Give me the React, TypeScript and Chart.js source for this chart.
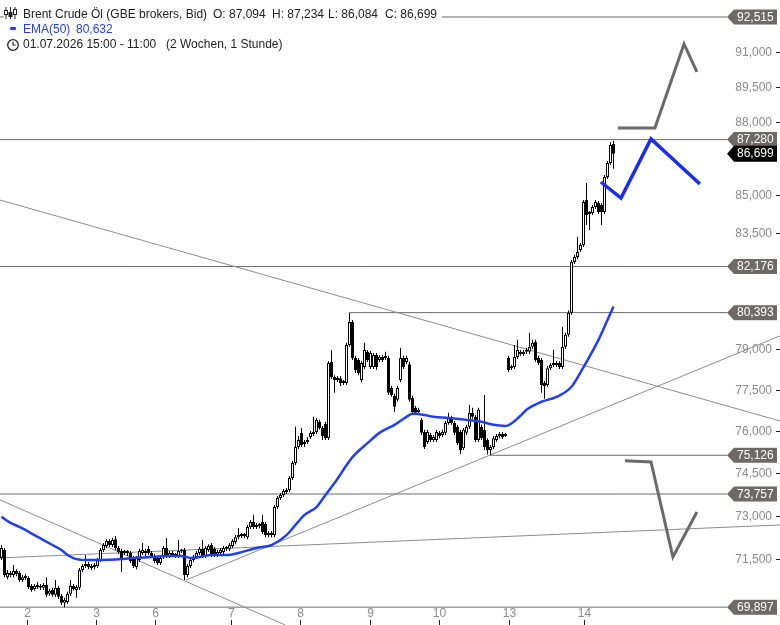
import { useEffect, useRef } from "react"
import { Chart, registerables } from "chart.js"

Chart.register(...registerables)

// hourly candles, 01.07. 15:00 - 14.07. 11:00 (index = candle slot)
const opens = [
  71.55, 71.82, 70.9, 71.04, 70.97, 71.11, 71.04, 70.8, 70.9, 70.87,
  70.6, 70.5, 70.57, 70.6, 70.54, 70.64, 70.34, 70.47, 70.31, 70.54,
  70.27, 70.04, 70.07, 70.34, 70.6, 70.47, 70.54, 71.14, 71.28, 71.34,
  71.28, 71.24, 71.28, 71.48, 71.82, 71.96, 72.13, 71.99, 72.19, 71.89,
  71.79, 71.72, 71.75, 71.72, 71.55, 71.24, 71.48, 71.72, 71.79, 71.86,
  71.72, 71.62, 71.55, 71.38, 71.58, 71.89, 71.62, 71.72, 71.65, 71.62,
  71.79, 71.82, 70.97, 71.28, 71.48, 71.58, 71.72, 71.86, 71.62, 71.82,
  71.99, 71.86, 71.65, 71.72, 71.75, 71.89, 71.86, 71.96, 72.09, 72.26,
  72.33, 72.3, 72.26, 72.61, 72.78, 72.61, 72.68, 72.78, 72.71, 72.33,
  72.4, 72.33, 73.3, 73.62, 73.72, 73.86, 73.9, 74.32, 74.85, 75.42,
  75.93, 75.53, 75.6, 75.78, 75.93, 75.96, 76.33, 76.11, 76.26, 75.74,
  78.53, 77.97, 77.86, 77.93, 77.75, 77.75, 79.17, 80.04, 78.68, 78.6,
  77.86, 78.34, 78.91, 78.34, 78.34, 78.79, 78.6, 78.72, 78.68, 78.68,
  77.57, 77.28, 77.13, 77.86, 78.68, 78.53, 78.45, 77.2, 76.84, 76.69,
  76.4, 75.96, 75.6, 75.85, 75.67, 75.67, 75.93, 75.85, 75.93, 76.29,
  76.47, 76.29, 76.15, 75.96, 75.38, 75.93, 76.15, 76.66, 76.51, 75.67,
  76.15, 76.04, 75.67, 75.31, 75.42, 75.67, 75.82, 75.89, 75.82, 78.68,
  78.3, 78.34, 78.72, 78.91, 78.83, 78.91, 78.91, 79.1, 79.28, 78.68,
  78.6, 77.75, 77.68, 78.3, 78.42, 78.42, 78.49, 78.34, 79.1, 79.55,
  80.39, 82.35, 82.55, 82.82, 83.02, 84.81, 84.25, 84.29, 84.53, 84.69,
  84.61, 84.33, 85.74, 86.32, 87.094,
]
const highs = [
  71.99, 71.89, 71.14, 71.11, 71.31, 71.17, 71.11, 70.97, 71.0, 70.93,
  70.67, 70.67, 70.74, 70.67, 70.7, 70.9, 70.5, 70.54, 70.8, 70.6,
  70.34, 70.21, 70.41, 70.8, 70.67, 70.64, 71.21, 71.34, 71.65, 71.41,
  71.34, 71.38, 71.55, 71.89, 72.06, 72.19, 72.19, 72.23, 72.3, 71.96,
  71.86, 71.82, 71.82, 71.79, 71.62, 71.62, 71.86, 72.06, 71.86, 71.96,
  71.79, 71.68, 71.62, 71.62, 71.96, 72.23, 71.79, 71.79, 71.72, 72.16,
  71.86, 71.89, 71.34, 71.55, 71.65, 71.79, 71.92, 72.16, 71.96, 72.02,
  72.06, 71.92, 71.82, 71.89, 71.96, 71.96, 72.06, 72.19, 72.33, 72.57,
  72.4, 72.4, 72.68, 72.85, 73.03, 72.75, 72.75, 73.03, 72.78, 72.47,
  72.47, 73.37, 73.69, 73.79, 73.93, 73.97, 74.39, 74.92, 76.15, 75.82,
  76.11, 75.67, 75.78, 76.0, 76.51, 76.47, 76.4, 76.18, 76.33, 78.56,
  78.98, 78.04, 78.01, 78.01, 77.86, 79.25, 80.393, 80.11, 78.76, 78.68,
  78.56, 79.25, 78.98, 78.94, 78.87, 78.87, 78.79, 78.79, 78.91, 78.76,
  77.64, 77.35, 77.64, 79.06, 78.76, 78.76, 78.53, 77.28, 76.91, 76.84,
  76.47, 76.04, 76.04, 75.93, 75.85, 76.04, 76.0, 76.04, 76.36, 76.66,
  76.55, 76.36, 76.22, 76.04, 76.11, 76.22, 76.95, 76.84, 76.58, 76.84,
  76.22, 77.31, 75.74, 75.49, 75.82, 75.89, 75.96, 75.96, 75.93, 78.76,
  78.42, 79.17, 79.36, 78.98, 78.98, 79.06, 79.63, 79.36, 79.36, 78.76,
  78.68, 77.82, 78.38, 78.49, 78.98, 78.56, 78.56, 79.85, 79.63, 80.47,
  82.43, 82.63, 83.34, 83.1, 84.81, 85.5, 84.37, 84.61, 84.81, 84.77,
  84.69, 85.82, 86.4, 87.18, 87.234,
]
const lows = [
  71.48, 70.9, 70.83, 70.9, 70.9, 70.93, 70.74, 70.74, 70.8, 70.5,
  70.41, 70.44, 70.5, 70.47, 70.47, 70.24, 70.27, 70.24, 70.24, 70.17,
  69.97, 69.897, 70.01, 70.27, 70.44, 70.21, 70.47, 71.07, 71.21, 71.17,
  71.14, 71.17, 71.21, 71.41, 71.75, 71.89, 71.92, 71.92, 71.82, 71.68,
  71.07, 71.65, 71.62, 71.38, 71.21, 71.17, 71.41, 71.65, 71.62, 71.65,
  71.55, 71.38, 71.31, 71.31, 71.51, 71.55, 71.55, 71.58, 71.55, 71.55,
  71.72, 70.8, 70.9, 71.21, 71.41, 71.51, 71.65, 71.55, 71.55, 71.75,
  71.58, 71.58, 71.58, 71.65, 71.68, 71.79, 71.79, 71.89, 72.02, 72.19,
  72.23, 72.23, 72.19, 72.54, 72.54, 72.54, 72.57, 72.37, 72.26, 72.26,
  72.26, 72.26, 73.23, 73.55, 73.65, 73.76, 73.83, 74.25, 74.78, 75.35,
  75.42, 75.42, 75.53, 75.71, 75.82, 75.89, 76.04, 75.67, 75.67, 75.67,
  77.9, 77.39, 77.79, 77.64, 77.68, 77.68, 79.1, 78.6, 78.12, 78.04,
  77.79, 78.27, 78.53, 78.27, 78.27, 78.23, 78.53, 78.53, 78.6, 77.31,
  77.24, 76.69, 77.06, 77.79, 78.27, 78.45, 77.06, 76.62, 76.58, 76.62,
  75.85, 75.35, 75.53, 75.6, 75.6, 75.6, 75.74, 75.78, 75.85, 76.22,
  76.22, 75.85, 75.49, 75.17, 75.31, 75.85, 76.07, 76.44, 75.6, 75.6,
  75.67, 75.31, 75.15, 75.126, 75.35, 75.6, 75.74, 75.71, 75.78, 78.16,
  78.23, 78.27, 78.64, 78.76, 78.76, 78.83, 78.83, 79.02, 78.53, 78.42,
  77.39, 77.17, 77.61, 78.23, 78.34, 78.34, 78.27, 78.27, 79.02, 79.48,
  80.31, 82.27, 82.47, 82.74, 82.94, 83.81, 83.61, 84.21, 84.45, 84.25,
  83.81, 84.25, 85.66, 86.24, 86.084,
]
const closes = [
  71.89, 70.97, 71.04, 70.97, 71.11, 71.0, 70.8, 70.9, 70.87, 70.57,
  70.47, 70.6, 70.64, 70.54, 70.64, 70.31, 70.44, 70.31, 70.54, 70.24,
  70.04, 70.14, 70.34, 70.6, 70.5, 70.57, 71.14, 71.28, 71.31, 71.24,
  71.21, 71.31, 71.48, 71.82, 71.99, 72.13, 71.99, 72.16, 71.89, 71.75,
  71.48, 71.75, 71.72, 71.45, 71.28, 71.55, 71.79, 71.82, 71.72, 71.72,
  71.62, 71.45, 71.38, 71.55, 71.89, 71.62, 71.72, 71.65, 71.62, 71.79,
  71.77, 70.97, 71.28, 71.48, 71.58, 71.72, 71.86, 71.62, 71.89, 71.96,
  71.65, 71.65, 71.75, 71.82, 71.89, 71.86, 71.99, 72.13, 72.26, 72.33,
  72.3, 72.33, 72.61, 72.78, 72.61, 72.68, 72.64, 72.44, 72.33, 72.4,
  72.33, 73.3, 73.62, 73.72, 73.86, 73.83, 74.32, 74.85, 75.42, 75.67,
  75.49, 75.6, 75.67, 75.93, 75.89, 76.4, 76.11, 75.82, 75.74, 78.49,
  77.97, 77.86, 77.93, 77.75, 77.79, 79.17, 80.04, 78.68, 78.23, 78.12,
  78.49, 78.98, 78.6, 78.87, 78.79, 78.34, 78.72, 78.6, 78.76, 77.39,
  77.31, 76.88, 77.57, 78.68, 78.34, 78.68, 77.13, 76.69, 76.66, 76.77,
  75.93, 75.42, 75.96, 75.67, 75.78, 75.96, 75.82, 75.96, 76.29, 76.47,
  76.29, 75.93, 75.56, 75.31, 76.04, 76.15, 76.66, 76.51, 75.67, 76.77,
  75.74, 75.42, 75.31, 75.42, 75.74, 75.82, 75.89, 75.78, 75.85, 78.23,
  78.34, 78.72, 78.98, 78.83, 78.91, 78.94, 79.1, 79.25, 78.6, 78.49,
  77.68, 77.64, 78.3, 78.42, 78.49, 78.49, 78.34, 79.1, 79.55, 80.39,
  82.35, 82.55, 82.74, 83.02, 84.73, 84.21, 84.29, 84.53, 84.73, 84.33,
  84.33, 85.74, 86.32, 87.06, 86.699,
]

// EMA(50)
const emaIdx = [0, 3, 6, 11, 14, 17, 20, 22, 25, 29, 33, 40, 44, 50, 55, 60, 63, 66, 70, 75, 79, 85, 90, 95, 98, 101, 105, 108, 111, 117, 122, 126, 131, 135, 137, 141, 144, 149, 155, 160, 164, 168, 173, 175, 180, 185, 190, 194, 199, 202, 204]
const emaVal = [72.96, 72.75, 72.61, 72.33, 72.16, 71.99, 71.82, 71.65, 71.51, 71.48, 71.48, 71.51, 71.55, 71.58, 71.62, 71.62, 71.55, 71.58, 71.65, 71.65, 71.72, 71.89, 71.99, 72.33, 72.68, 73.03, 73.3, 73.72, 74.14, 75.06, 75.56, 75.93, 76.22, 76.51, 76.62, 76.58, 76.51, 76.47, 76.4, 76.33, 76.22, 76.18, 76.55, 76.77, 77.06, 77.24, 77.61, 78.34, 79.36, 80.11, 80.632]

// horizontal levels
const levels = [92.515, 87.28, 82.176, 80.393, 75.126, 73.757, 69.897]
const levelFrom = [-0.5, -0.5, -0.5, 116, 163, -0.5, -0.5]
const lastPrice = 86.699

// trend lines (slot, price)
const trendUpperX = [-0.5, 259.5]
const trendUpperY = [84.81, 76.36]
const trendLowerX = [-0.5, 94.5]
const trendLowerY = [73.55, 69.31]
const trendRiseX = [61.5, 259.5]
const trendRiseY = [70.8, 79.51]
const trendFlatX = [-0.5, 259.5]
const trendFlatY = [71.55, 72.68]

// scenario arrows
const projUpX = [205.5, 217.8, 227.5, 231.8]
const projUpY = [87.76, 87.76, 91.34, 90.13]
const projBlueX = [199.8, 206.5, 216.5, 232.8]
const projBlueY = [85.54, 84.89, 87.31, 85.46]
const projDownX = [207.8, 216.5, 223.8, 231.8]
const projDownY = [74.93, 74.89, 71.58, 73.13]

const yTicks = [91, 89.5, 88, 85, 83.5, 79, 77.5, 76, 74.5, 73, 71.5]
const dayTicks = [8.5, 31.5, 51.3, 76.5, 99.5, 122.8, 145.8, 169.2, 194.3]
const dayLabels = ["2", "3", "6", "7", "8", "9", "10", "13", "14"]

const X_MIN = -0.5
const X_MAX = 241.83
const Y_MIN = 69.802
const Y_MAX = 93.265

const FONT = '12px "Liberation Sans", Arial, sans-serif'
const fmt = (v: number) => v.toFixed(3).replace(".", ",")
const pts = (xs: number[], ys: number[]) => xs.map((x, i) => ({ x, y: ys[i] }))

const axisPlugin = {
  id: "axisLabels",
  beforeDatasetsDraw(chart: any) {
    const { ctx, scales, width } = chart
    ctx.save()
    ctx.font = FONT
    ctx.textBaseline = "middle"
    ctx.textAlign = "right"
    yTicks.forEach((v) => {
      const py = Math.round(scales.y.getPixelForValue(v)) + 0.5
      ctx.fillStyle = "#8a8a8a"
      ctx.fillText(fmt(v), width - 8, py)
      ctx.strokeStyle = "#222"
      ctx.lineWidth = 1
      ctx.beginPath()
      ctx.moveTo(width - 4, py)
      ctx.lineTo(width, py)
      ctx.stroke()
    })
    ctx.textAlign = "center"
    dayTicks.forEach((t, i) => {
      const px = Math.round(scales.x.getPixelForValue(t)) + 0.5
      ctx.fillStyle = "#8a8a8a"
      ctx.fillText(dayLabels[i], px, 614)
      ctx.strokeStyle = "#222"
      ctx.beginPath()
      ctx.moveTo(px, 620)
      ctx.lineTo(px, 625)
      ctx.stroke()
    })
    ctx.restore()
  },
  afterDatasetsDraw(chart: any) {
    const { ctx, scales, chartArea, width } = chart
    const box = (v: number, fill: string, h: number) => {
      const py = scales.y.getPixelForValue(v)
      const x0 = chartArea.right
      const x1 = width - 3
      ctx.fillStyle = fill
      ctx.beginPath()
      ctx.moveTo(x0, py)
      ctx.lineTo(x0 + 7, py - h / 2)
      ctx.lineTo(x1, py - h / 2)
      ctx.lineTo(x1, py + h / 2)
      ctx.lineTo(x0 + 7, py + h / 2)
      ctx.closePath()
      ctx.fill()
      ctx.fillStyle = "#fff"
      ctx.fillText(fmt(v), x0 + 10, py + 0.5)
    }
    ctx.save()
    ctx.font = FONT
    ctx.textAlign = "left"
    ctx.textBaseline = "middle"
    levels.forEach((v) => box(v, "#6e6966", 15))
    box(lastPrice, "#000", 16)
    ctx.restore()
  },
}

const txt: any = {
  position: "absolute",
  font: FONT,
  lineHeight: "14px",
  whiteSpace: "pre",
  color: "#222",
}

export default function App() {
  const chartRef = useRef<HTMLCanvasElement>(null)
  const chartInstance = useRef<Chart | null>(null)

  useEffect(() => {
    document.body.style.margin = "0"
    if (!chartRef.current) return
    if (chartInstance.current) chartInstance.current.destroy()
    const ctx = chartRef.current.getContext("2d")
    if (!ctx) return

    const line = (data: any[], color: string, w: number, order: number, extra: any = {}) => ({
      type: "line" as const,
      data,
      borderColor: color,
      borderWidth: w,
      pointRadius: 0,
      fill: false,
      order,
      ...extra,
    })

    const levelSets = levels.map((v, i) =>
      line(pts([levelFrom[i], X_MAX], [v, v]), "#6b6b6b", 1, 5)
    )

    chartInstance.current = new Chart(ctx, {
      type: "bar",
      data: {
        datasets: [
          line(pts(emaIdx, emaVal), "#1f3ff2", 2.5, 0, { cubicInterpolationMode: "monotone" }),
          line(pts(projBlueX, projBlueY), "#1a2cf0", 3.5, 0, { borderJoinStyle: "miter", clip: false }),
          line(pts(projUpX, projUpY), "#6a6a6a", 3, 0, { borderJoinStyle: "miter", clip: false }),
          line(pts(projDownX, projDownY), "#6a6a6a", 3, 0, { borderJoinStyle: "miter", clip: false }),
          {
            type: "bar" as const,
            data: opens.map((o, i) => ({ x: i, y: [o, closes[i]] })) as any,
            backgroundColor: (c: any) => (closes[c.dataIndex] >= opens[c.dataIndex] ? "#fff" : "#000"),
            borderColor: "#000",
            borderWidth: 1,
            borderSkipped: false,
            inflateAmount: 0,
            barThickness: 3,
            maxBarThickness: 3,
            minBarLength: 2,
            grouped: false,
            order: 1,
          },
          {
            type: "bar" as const,
            data: highs.map((h, i) => ({ x: i, y: [lows[i], h] })) as any,
            backgroundColor: "#000",
            borderWidth: 0,
            inflateAmount: 0,
            barThickness: 1,
            maxBarThickness: 1,
            grouped: false,
            order: 2,
          },
          line(pts(trendUpperX, trendUpperY), "#8c8c8c", 1, 4, { clip: false }),
          line(pts(trendLowerX, trendLowerY), "#8c8c8c", 1, 4, { clip: false }),
          line(pts(trendRiseX, trendRiseY), "#8c8c8c", 1, 4, { clip: false }),
          line(pts(trendFlatX, trendFlatY), "#8c8c8c", 1, 4, { clip: false }),
          ...levelSets,
        ] as any,
      },
      options: {
        responsive: false,
        animation: false,
        events: [],
        layout: { padding: { left: 0, right: 53, top: 0, bottom: 15 } },
        plugins: { legend: { display: false }, tooltip: { enabled: false } },
        scales: {
          x: { type: "linear", min: X_MIN, max: X_MAX, offset: false, display: false },
          y: { type: "logarithmic", min: Y_MIN, max: Y_MAX, display: false },
        },
      },
      plugins: [axisPlugin],
    })

    return () => {
      if (chartInstance.current) {
        chartInstance.current.destroy()
        chartInstance.current = null
      }
    }
  }, [])

  return (
    <div style={{ position: "relative", width: 780, height: 625, background: "#fff", overflow: "hidden" }}>
      <canvas ref={chartRef} width={780} height={625} style={{ position: "absolute", left: 0, top: 0 }} />
      <div style={{ position: "absolute", left: 4, top: 5, width: 438, height: 15, background: "#fff" }} />
      <svg width="14" height="14" viewBox="0 0 14 14" style={{ position: "absolute", left: 4, top: 6 }}>
        <path d="M2 1v12M6.5 1v12M11 1v12" stroke="#222" strokeWidth="1" />
        <rect x="0.5" y="4.5" width="3" height="4" fill="#fff" stroke="#222" />
        <rect x="5" y="6.5" width="3" height="4" fill="#222" stroke="#222" />
        <rect x="9.5" y="3.5" width="3" height="5" fill="#fff" stroke="#222" />
      </svg>
      <span style={{ ...txt, left: 23, top: 6.5 }}>Brent Crude Öl (GBE brokers, Bid)</span>
      <span style={{ ...txt, left: 213, top: 6.5 }}>O: 87,094</span>
      <span style={{ ...txt, left: 272, top: 6.5 }}>H: 87,234</span>
      <span style={{ ...txt, left: 328, top: 6.5 }}>L: 86,084</span>
      <span style={{ ...txt, left: 385, top: 6.5 }}>C: 86,699</span>
      <div style={{ position: "absolute", left: 10, top: 27, width: 6, height: 3, background: "#1f3ff2", borderRadius: 1 }} />
      <span style={{ ...txt, left: 23, top: 21.5, color: "#1f3ff2" }}>EMA(50)</span>
      <span style={{ ...txt, left: 76, top: 21.5, color: "#1f3ff2" }}>80,632</span>
      <svg width="14" height="14" viewBox="0 0 14 14" style={{ position: "absolute", left: 5.5, top: 37.5 }}>
        <circle cx="7" cy="7" r="5.3" fill="none" stroke="#222" strokeWidth="1.3" />
        <path d="M7 3.8V7h2.6" fill="none" stroke="#222" strokeWidth="1.2" />
      </svg>
      <span style={{ ...txt, left: 23, top: 37 }}>01.07.2026 15:00 - 11:00</span>
      <span style={{ ...txt, left: 166, top: 37 }}>(2 Wochen, 1 Stunde)</span>
    </div>
  )
}
